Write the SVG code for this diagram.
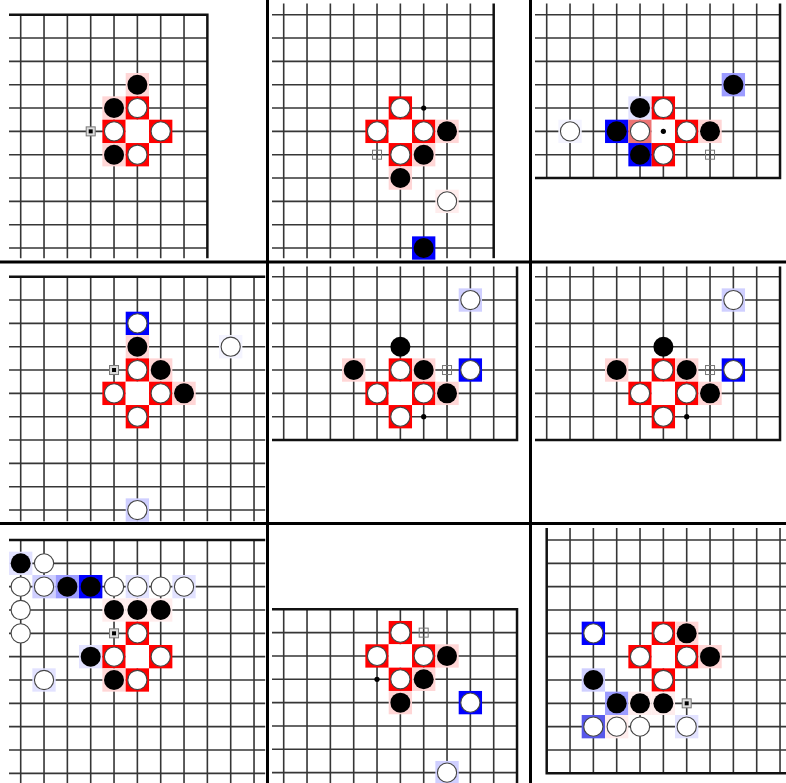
<svg xmlns="http://www.w3.org/2000/svg" xmlns:xlink="http://www.w3.org/1999/xlink" width="786" height="783" viewBox="0 0 786 783">
<style>
.g{fill:none;stroke:#363636;stroke-width:1.6}
.bd{fill:none;stroke:#111;stroke-width:2.5}
.r{fill:#ff0000}.p{fill:#ffd6d6}.fp{fill:#ffeded}.bl{fill:#0000ff}.mb{fill:#5858ea}.ml{fill:#9c9cff}.pl{fill:#cfcfff}.ll{fill:#e2e2ff}.fl{fill:#f4f4ff}.sa{fill:#ee7474}.wh{fill:#ffffff}
</style>
<defs>
<rect id="q" x="-11.67" y="-11.67" width="23.33" height="23.33"/>
<circle id="bs" r="10" fill="#000"/>
<circle id="ws" r="9.6" fill="#fff" stroke="#444" stroke-width="1.1"/>
<g id="mk"><rect x="-4.5" y="-4.5" width="9" height="9" fill="#dcdcdc" stroke="#777" stroke-width="1"/><rect x="-2" y="-2" width="4" height="4" fill="#000"/></g>
<rect id="hq" x="-4.5" y="-4.5" width="9" height="9" fill="none" stroke="#777" stroke-width="1"/>
<circle id="dt" r="2.6" fill="#000"/>
</defs>
<rect width="786" height="783" fill="#fff"/>

<g id="panel1" transform="translate(20.7,14.7)">
<path class="g" d="M0,0V243.5M23.33,0V243.5M46.67,0V243.5M70,0V243.5M93.33,0V243.5M116.67,0V243.5M140,0V243.5M163.33,0V243.5M-11.7,23.33H186.67M-11.7,46.67H186.67M-11.7,70H186.67M-11.7,93.33H186.67M-11.7,116.67H186.67M-11.7,140H186.67M-11.7,163.33H186.67M-11.7,186.67H186.67M-11.7,210H186.67M-11.7,233.33H186.67"/>
<path class="bd" d="M-11.7,0H186.67V243.5"/>
<use href="#q" class="p" x="116.67" y="70"/><use href="#q" class="p" x="93.33" y="93.33"/><use href="#q" class="r" x="116.67" y="93.33"/><use href="#q" class="r" x="93.33" y="116.67"/><use href="#q" class="wh" x="116.67" y="116.67"/><use href="#q" class="r" x="140" y="116.67"/><use href="#q" class="p" x="93.33" y="140"/><use href="#q" class="r" x="116.67" y="140"/>
<use href="#bs" x="116.67" y="70"/><use href="#bs" x="93.33" y="93.33"/><use href="#ws" x="116.67" y="93.33"/><use href="#ws" x="93.33" y="116.67"/><use href="#ws" x="140" y="116.67"/><use href="#bs" x="93.33" y="140"/><use href="#ws" x="116.67" y="140"/><use href="#mk" x="70" y="116.67"/>
</g>

<g id="panel2" transform="translate(283.7,14.7)">
<path class="g" d="M0,-11.2V243.5M23.33,-11.2V243.5M46.67,-11.2V243.5M70,-11.2V243.5M93.33,-11.2V243.5M116.67,-11.2V243.5M140,-11.2V243.5M163.33,-11.2V243.5M186.67,-11.2V243.5M-11.7,0H210M-11.7,23.33H210M-11.7,46.67H210M-11.7,70H210M-11.7,93.33H210M-11.7,116.67H210M-11.7,140H210M-11.7,163.33H210M-11.7,186.67H210M-11.7,210H210M-11.7,233.33H210"/>
<path class="bd" d="M210,-11.2V243.5"/>
<use href="#q" class="r" x="116.67" y="93.33"/><use href="#q" class="r" x="93.33" y="116.67"/><use href="#q" class="wh" x="116.67" y="116.67"/><use href="#q" class="r" x="140" y="116.67"/><use href="#q" class="p" x="163.33" y="116.67"/><use href="#q" class="r" x="116.67" y="140"/><use href="#q" class="p" x="140" y="140"/><use href="#q" class="p" x="116.67" y="163.33"/><use href="#q" class="fp" x="163.33" y="186.67"/><use href="#q" class="bl" x="140" y="233.33"/>
<use href="#ws" x="116.67" y="93.33"/><use href="#dt" x="140" y="93.33"/><use href="#ws" x="93.33" y="116.67"/><use href="#ws" x="140" y="116.67"/><use href="#bs" x="163.33" y="116.67"/><use href="#hq" x="93.33" y="140"/><use href="#ws" x="116.67" y="140"/><use href="#bs" x="140" y="140"/><use href="#bs" x="116.67" y="163.33"/><use href="#ws" x="163.33" y="186.67"/><use href="#bs" x="140" y="233.33"/>
</g>

<g id="panel3" transform="translate(546.7,14.7)">
<path class="g" d="M0,-11.2V163.33M23.33,-11.2V163.33M46.67,-11.2V163.33M70,-11.2V163.33M93.33,-11.2V163.33M116.67,-11.2V163.33M140,-11.2V163.33M163.33,-11.2V163.33M186.67,-11.2V163.33M210,-11.2V163.33M-11.7,0H233.33M-11.7,23.33H233.33M-11.7,46.67H233.33M-11.7,70H233.33M-11.7,93.33H233.33M-11.7,116.67H233.33M-11.7,140H233.33"/>
<path class="bd" d="M-11.7,163.33H233.33V-11.2"/>
<use href="#q" class="ml" x="186.67" y="70"/><use href="#q" class="ll" x="93.33" y="93.33"/><use href="#q" class="r" x="116.67" y="93.33"/><use href="#q" class="fl" x="23.33" y="116.67"/><use href="#q" class="bl" x="70" y="116.67"/><use href="#q" class="sa" x="93.33" y="116.67"/><use href="#q" class="wh" x="116.67" y="116.67"/><use href="#q" class="r" x="140" y="116.67"/><use href="#q" class="p" x="163.33" y="116.67"/><use href="#q" class="bl" x="93.33" y="140"/><use href="#q" class="r" x="116.67" y="140"/>
<use href="#bs" x="186.67" y="70"/><use href="#bs" x="93.33" y="93.33"/><use href="#ws" x="116.67" y="93.33"/><use href="#ws" x="23.33" y="116.67"/><use href="#bs" x="70" y="116.67"/><use href="#ws" x="93.33" y="116.67"/><use href="#dt" x="116.67" y="116.67"/><use href="#ws" x="140" y="116.67"/><use href="#bs" x="163.33" y="116.67"/><use href="#bs" x="93.33" y="140"/><use href="#ws" x="116.67" y="140"/><use href="#hq" x="163.33" y="140"/>
</g>

<g id="panel4" transform="translate(20.7,276.7)">
<path class="g" d="M0,0V244.5M23.33,0V244.5M46.67,0V244.5M70,0V244.5M93.33,0V244.5M116.67,0V244.5M140,0V244.5M163.33,0V244.5M186.67,0V244.5M210,0V244.5M233.33,0V244.5M-11.7,23.33H244.5M-11.7,46.67H244.5M-11.7,70H244.5M-11.7,93.33H244.5M-11.7,116.67H244.5M-11.7,140H244.5M-11.7,163.33H244.5M-11.7,186.67H244.5M-11.7,210H244.5M-11.7,233.33H244.5"/>
<path class="bd" d="M-11.7,0H244.5"/>
<use href="#q" class="bl" x="116.67" y="46.67"/><use href="#q" class="p" x="116.67" y="70"/><use href="#q" class="fl" x="210" y="70"/><use href="#q" class="r" x="116.67" y="93.33"/><use href="#q" class="p" x="140" y="93.33"/><use href="#q" class="r" x="93.33" y="116.67"/><use href="#q" class="wh" x="116.67" y="116.67"/><use href="#q" class="r" x="140" y="116.67"/><use href="#q" class="p" x="163.33" y="116.67"/><use href="#q" class="r" x="116.67" y="140"/><use href="#q" class="pl" x="116.67" y="233.33"/>
<use href="#ws" x="116.67" y="46.67"/><use href="#bs" x="116.67" y="70"/><use href="#ws" x="210" y="70"/><use href="#mk" x="93.33" y="93.33"/><use href="#ws" x="116.67" y="93.33"/><use href="#bs" x="140" y="93.33"/><use href="#ws" x="93.33" y="116.67"/><use href="#ws" x="140" y="116.67"/><use href="#bs" x="163.33" y="116.67"/><use href="#ws" x="116.67" y="140"/><use href="#ws" x="116.67" y="233.33"/>
</g>

<g id="panel5" transform="translate(283.7,276.7)">
<path class="g" d="M0,-10.2V163.33M23.33,-10.2V163.33M46.67,-10.2V163.33M70,-10.2V163.33M93.33,-10.2V163.33M116.67,-10.2V163.33M140,-10.2V163.33M163.33,-10.2V163.33M186.67,-10.2V163.33M210,-10.2V163.33M-11.7,0H233.33M-11.7,23.33H233.33M-11.7,46.67H233.33M-11.7,70H233.33M-11.7,93.33H233.33M-11.7,116.67H233.33M-11.7,140H233.33"/>
<path class="bd" d="M-11.7,163.33H233.33V-10.2"/>
<use href="#q" class="pl" x="186.67" y="23.33"/><use href="#q" class="p" x="70" y="93.33"/><use href="#q" class="r" x="116.67" y="93.33"/><use href="#q" class="p" x="140" y="93.33"/><use href="#q" class="bl" x="186.67" y="93.33"/><use href="#q" class="r" x="93.33" y="116.67"/><use href="#q" class="wh" x="116.67" y="116.67"/><use href="#q" class="r" x="140" y="116.67"/><use href="#q" class="p" x="163.33" y="116.67"/><use href="#q" class="r" x="116.67" y="140"/>
<use href="#ws" x="186.67" y="23.33"/><use href="#bs" x="116.67" y="70"/><use href="#bs" x="70" y="93.33"/><use href="#ws" x="116.67" y="93.33"/><use href="#bs" x="140" y="93.33"/><use href="#hq" x="163.33" y="93.33"/><use href="#ws" x="186.67" y="93.33"/><use href="#ws" x="93.33" y="116.67"/><use href="#ws" x="140" y="116.67"/><use href="#bs" x="163.33" y="116.67"/><use href="#ws" x="116.67" y="140"/><use href="#dt" x="140" y="140"/>
</g>

<g id="panel6" transform="translate(546.7,276.7)">
<path class="g" d="M0,-10.2V163.33M23.33,-10.2V163.33M46.67,-10.2V163.33M70,-10.2V163.33M93.33,-10.2V163.33M116.67,-10.2V163.33M140,-10.2V163.33M163.33,-10.2V163.33M186.67,-10.2V163.33M210,-10.2V163.33M-11.7,0H233.33M-11.7,23.33H233.33M-11.7,46.67H233.33M-11.7,70H233.33M-11.7,93.33H233.33M-11.7,116.67H233.33M-11.7,140H233.33"/>
<path class="bd" d="M-11.7,163.33H233.33V-10.2"/>
<use href="#q" class="pl" x="186.67" y="23.33"/><use href="#q" class="p" x="70" y="93.33"/><use href="#q" class="r" x="116.67" y="93.33"/><use href="#q" class="p" x="140" y="93.33"/><use href="#q" class="bl" x="186.67" y="93.33"/><use href="#q" class="r" x="93.33" y="116.67"/><use href="#q" class="wh" x="116.67" y="116.67"/><use href="#q" class="r" x="140" y="116.67"/><use href="#q" class="p" x="163.33" y="116.67"/><use href="#q" class="r" x="116.67" y="140"/>
<use href="#ws" x="186.67" y="23.33"/><use href="#bs" x="116.67" y="70"/><use href="#bs" x="70" y="93.33"/><use href="#ws" x="116.67" y="93.33"/><use href="#bs" x="140" y="93.33"/><use href="#hq" x="163.33" y="93.33"/><use href="#ws" x="186.67" y="93.33"/><use href="#ws" x="93.33" y="116.67"/><use href="#ws" x="140" y="116.67"/><use href="#bs" x="163.33" y="116.67"/><use href="#ws" x="116.67" y="140"/><use href="#dt" x="140" y="140"/>
</g>

<g id="panel7" transform="translate(20.7,540)">
<path class="g" d="M0,0V243M23.33,0V243M46.67,0V243M70,0V243M93.33,0V243M116.67,0V243M140,0V243M163.33,0V243M186.67,0V243M210,0V243M233.33,0V243M-11.7,23.33H244.5M-11.7,46.67H244.5M-11.7,70H244.5M-11.7,93.33H244.5M-11.7,116.67H244.5M-11.7,140H244.5M-11.7,163.33H244.5M-11.7,186.67H244.5M-11.7,210H244.5M-11.7,233.33H244.5"/>
<path class="bd" d="M-11.7,0H244.5"/>
<use href="#q" class="ll" x="0" y="23.33"/><use href="#q" class="pl" x="23.33" y="46.67"/><use href="#q" class="ml" x="46.67" y="46.67"/><use href="#q" class="bl" x="70" y="46.67"/><use href="#q" class="ll" x="116.67" y="46.67"/><use href="#q" class="ll" x="163.33" y="46.67"/><use href="#q" class="fp" x="93.33" y="70"/><use href="#q" class="fp" x="116.67" y="70"/><use href="#q" class="fp" x="140" y="70"/><use href="#q" class="r" x="116.67" y="93.33"/><use href="#q" class="ll" x="70" y="116.67"/><use href="#q" class="r" x="93.33" y="116.67"/><use href="#q" class="wh" x="116.67" y="116.67"/><use href="#q" class="r" x="140" y="116.67"/><use href="#q" class="ll" x="23.33" y="140"/><use href="#q" class="p" x="93.33" y="140"/><use href="#q" class="r" x="116.67" y="140"/>
<use href="#bs" x="0" y="23.33"/><use href="#ws" x="23.33" y="23.33"/><use href="#ws" x="0" y="46.67"/><use href="#ws" x="23.33" y="46.67"/><use href="#bs" x="46.67" y="46.67"/><use href="#bs" x="70" y="46.67"/><use href="#ws" x="93.33" y="46.67"/><use href="#ws" x="116.67" y="46.67"/><use href="#ws" x="140" y="46.67"/><use href="#ws" x="163.33" y="46.67"/><use href="#ws" x="0" y="70"/><use href="#bs" x="93.33" y="70"/><use href="#bs" x="116.67" y="70"/><use href="#bs" x="140" y="70"/><use href="#ws" x="0" y="93.33"/><use href="#mk" x="93.33" y="93.33"/><use href="#ws" x="116.67" y="93.33"/><use href="#bs" x="70" y="116.67"/><use href="#ws" x="93.33" y="116.67"/><use href="#ws" x="140" y="116.67"/><use href="#ws" x="23.33" y="140"/><use href="#bs" x="93.33" y="140"/><use href="#ws" x="116.67" y="140"/>
</g>

<g id="panel8" transform="translate(283.7,609.3)">
<path class="g" d="M0,0V173.7M23.33,0V173.7M46.67,0V173.7M70,0V173.7M93.33,0V173.7M116.67,0V173.7M140,0V173.7M163.33,0V173.7M186.67,0V173.7M210,0V173.7M-11.7,23.33H233.33M-11.7,46.67H233.33M-11.7,70H233.33M-11.7,93.33H233.33M-11.7,116.67H233.33M-11.7,140H233.33M-11.7,163.33H233.33"/>
<path class="bd" d="M-11.7,0H233.33V173.7"/>
<use href="#q" class="r" x="116.67" y="23.33"/><use href="#q" class="r" x="93.33" y="46.67"/><use href="#q" class="wh" x="116.67" y="46.67"/><use href="#q" class="r" x="140" y="46.67"/><use href="#q" class="p" x="163.33" y="46.67"/><use href="#q" class="r" x="116.67" y="70"/><use href="#q" class="p" x="140" y="70"/><use href="#q" class="p" x="116.67" y="93.33"/><use href="#q" class="bl" x="186.67" y="93.33"/><use href="#q" class="pl" x="163.33" y="163.33"/>
<use href="#ws" x="116.67" y="23.33"/><use href="#hq" x="140" y="23.33"/><use href="#ws" x="93.33" y="46.67"/><use href="#ws" x="140" y="46.67"/><use href="#bs" x="163.33" y="46.67"/><use href="#dt" x="93.33" y="70"/><use href="#ws" x="116.67" y="70"/><use href="#bs" x="140" y="70"/><use href="#bs" x="116.67" y="93.33"/><use href="#ws" x="186.67" y="93.33"/><use href="#ws" x="163.33" y="163.33"/>
</g>

<g id="panel9" transform="translate(546.7,540)">
<path class="g" d="M23.33,-12V233.33M46.67,-12V233.33M70,-12V233.33M93.33,-12V233.33M116.67,-12V233.33M140,-12V233.33M163.33,-12V233.33M186.67,-12V233.33M210,-12V233.33M233.33,-12V233.33M0,0H239.3M0,23.33H239.3M0,46.67H239.3M0,70H239.3M0,93.33H239.3M0,116.67H239.3M0,140H239.3M0,163.33H239.3M0,186.67H239.3M0,210H239.3"/>
<path class="bd" d="M0,-12V233.33H239.3"/>
<use href="#q" class="bl" x="46.67" y="93.33"/><use href="#q" class="r" x="116.67" y="93.33"/><use href="#q" class="p" x="140" y="93.33"/><use href="#q" class="r" x="93.33" y="116.67"/><use href="#q" class="wh" x="116.67" y="116.67"/><use href="#q" class="r" x="140" y="116.67"/><use href="#q" class="p" x="163.33" y="116.67"/><use href="#q" class="pl" x="46.67" y="140"/><use href="#q" class="r" x="116.67" y="140"/><use href="#q" class="ml" x="70" y="163.33"/><use href="#q" class="fp" x="93.33" y="163.33"/><use href="#q" class="fp" x="116.67" y="163.33"/><use href="#q" class="mb" x="46.67" y="186.67"/><use href="#q" class="fp" x="70" y="186.67"/><use href="#q" class="ll" x="140" y="186.67"/>
<use href="#ws" x="46.67" y="93.33"/><use href="#ws" x="116.67" y="93.33"/><use href="#bs" x="140" y="93.33"/><use href="#ws" x="93.33" y="116.67"/><use href="#ws" x="140" y="116.67"/><use href="#bs" x="163.33" y="116.67"/><use href="#bs" x="46.67" y="140"/><use href="#ws" x="116.67" y="140"/><use href="#bs" x="70" y="163.33"/><use href="#bs" x="93.33" y="163.33"/><use href="#bs" x="116.67" y="163.33"/><use href="#mk" x="140" y="163.33"/><use href="#ws" x="46.67" y="186.67"/><use href="#ws" x="70" y="186.67"/><use href="#ws" x="93.33" y="186.67"/><use href="#ws" x="140" y="186.67"/>
</g>

<g id="dividers">
<path d="M267.5,0V783M530.5,0V783M0,262H786M0,523.5H786" fill="none" stroke="#000" stroke-width="3"/>
</g>
</svg>
